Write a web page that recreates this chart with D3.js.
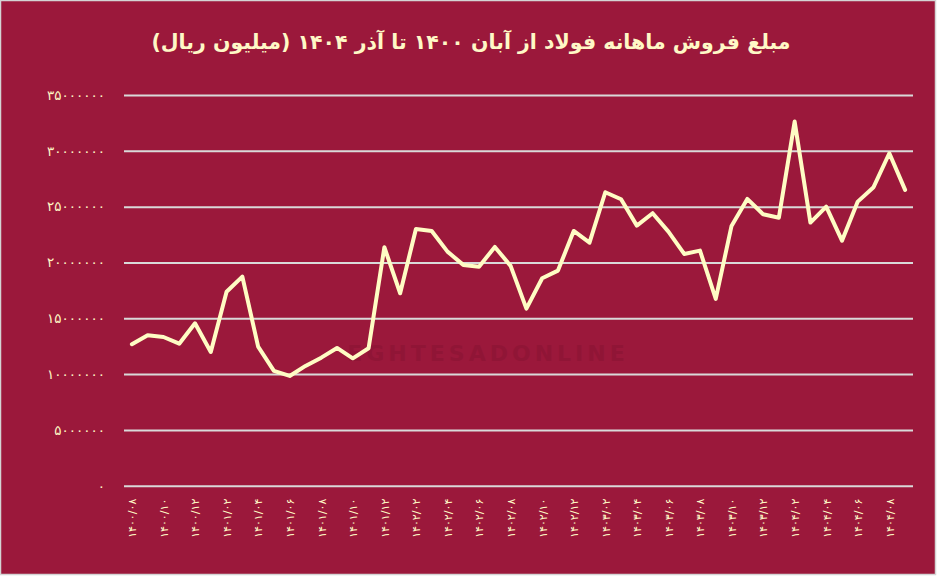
<!DOCTYPE html>
<html>
<head>
<meta charset="utf-8">
<script src="https://cdn.jsdelivr.net/npm/d3@7"></script>
<style>
  html, body { margin: 0; padding: 0; background: #ffffff; }
</style>
</head>
<body>
<div id="chart"></div>
<script>
// chart title (Persian)
var title = "مبلغ فروش ماهانه فولاد از آبان ۱۴۰۰ تا آذر ۱۴۰۴ (میلیون ریال)";

// months from 1400/08 to 1404/09
var months = [
  "1400/08","1400/09","1400/10","1400/11","1400/12",
  "1401/01","1401/02","1401/03","1401/04","1401/05","1401/06","1401/07","1401/08","1401/09","1401/10","1401/11","1401/12",
  "1402/01","1402/02","1402/03","1402/04","1402/05","1402/06","1402/07","1402/08","1402/09","1402/10","1402/11","1402/12",
  "1403/01","1403/02","1403/03","1403/04","1403/05","1403/06","1403/07","1403/08","1403/09","1403/10","1403/11","1403/12",
  "1404/01","1404/02","1404/03","1404/04","1404/05","1404/06","1404/07","1404/08","1404/09"
];

// monthly sales, million rials
var sales = [
  12670000, 13480000, 13320000, 12720000, 14550000,
  11980000, 17380000, 18730000, 12460000, 10280000, 9830000, 10730000, 11470000, 12340000, 11410000, 12310000, 21360000,
  17240000, 23000000, 22820000, 20970000, 19780000, 19620000, 21390000, 19690000, 15860000, 18580000, 19270000, 22820000,
  21770000, 26290000, 25660000, 23300000, 24410000, 22760000, 20760000, 21060000, 16730000, 23270000, 25690000, 24320000,
  24010000, 32620000, 23570000, 25000000, 21950000, 25450000, 26740000, 29780000, 26500000
];

var yTicks = [0, 5000000, 10000000, 15000000, 20000000, 25000000, 30000000, 35000000];

// western digits -> persian digits
function fa(s) {
  return String(s).replace(/[0-9]/g, function(c) { return "۰۱۲۳۴۵۶۷۸۹"[+c]; });
}

var W = 937, H = 576;
var margin = {top: 95, right: 24, bottom: 90, left: 124};
var width = 913 - margin.left,
    height = 485.7 - margin.top;

var svg = d3.select("#chart")
  .append("svg")
    .attr("width", W)
    .attr("height", H);

// background with light border
svg.append("rect")
  .attr("x", 0.5).attr("y", 0.5)
  .attr("width", W - 2).attr("height", H - 2)
  .attr("fill", "#9b183b")
  .attr("stroke", "#d4d4d4")
  .attr("stroke-width", 1.5);

// title
svg.append("text")
  .attr("x", 471)
  .attr("y", 49)
  .attr("text-anchor", "middle")
  .attr("direction", "rtl")
  .style("font-family", "'DejaVu Sans', sans-serif")
  .style("font-weight", "bold")
  .style("font-size", "20.5px")
  .style("fill", "#fff8c6")
  .text(title);

var g = svg.append("g")
  .attr("transform", "translate(" + margin.left + "," + margin.top + ")");

var x = d3.scalePoint()
  .domain(months)
  .range([0, width])
  .padding(0.5);

var y = d3.scaleLinear()
  .domain([0, 35000000])
  .range([height, 0]);

// watermark
g.append("text")
  .attr("x", 488 - margin.left)
  .attr("y", 361 - margin.top)
  .attr("text-anchor", "middle")
  .style("font-family", "'DejaVu Sans', sans-serif")
  .style("font-weight", "bold")
  .style("font-size", "22px")
  .style("letter-spacing", "4px")
  .style("fill", "#901536")
  .text("EGHTESADONLINE");

// gridlines
g.append("g")
  .call(d3.axisLeft(y).tickValues(yTicks).tickSize(-width).tickFormat(""))
  .call(function(a) {
    a.select(".domain").remove();
    a.selectAll("line").attr("stroke", "#d9d9d9").attr("stroke-width", 2);
  });

// y labels
g.append("g")
  .call(d3.axisLeft(y).tickValues(yTicks).tickSize(0).tickPadding(19).tickFormat(function(d) { return fa(d); }))
  .call(function(a) {
    a.select(".domain").remove();
    a.selectAll("text")
      .style("font-family", "'DejaVu Sans', sans-serif")
      .style("font-size", "13.5px")
      .style("fill", "#fff8c6");
  });

// x labels, every second month, rotated
var xLabels = months.filter(function(d, i) { return i % 2 == 0; });
g.append("g")
  .attr("transform", "translate(0," + height + ")")
  .call(d3.axisBottom(x).tickValues(xLabels).tickSize(0).tickFormat(function(d) { return fa(d); }))
  .call(function(a) {
    a.select(".domain").remove();
    a.selectAll("text")
      .attr("transform", "rotate(-90)")
      .attr("x", -13)
      .attr("y", 0)
      .attr("dy", "0.35em")
      .style("text-anchor", "end")
      .style("font-family", "'DejaVu Sans', sans-serif")
      .style("font-size", "11px")
      .style("fill", "#fff8c6");
  });

// the line
var line = d3.line()
  .x(function(d, i) { return x(months[i]); })
  .y(function(d) { return y(d); });

g.append("path")
  .datum(sales)
  .attr("fill", "none")
  .attr("stroke", "#fffcc4")
  .attr("stroke-width", 4)
  .attr("stroke-linejoin", "round")
  .attr("stroke-linecap", "round")
  .attr("d", line);
</script>
</body>
</html>
